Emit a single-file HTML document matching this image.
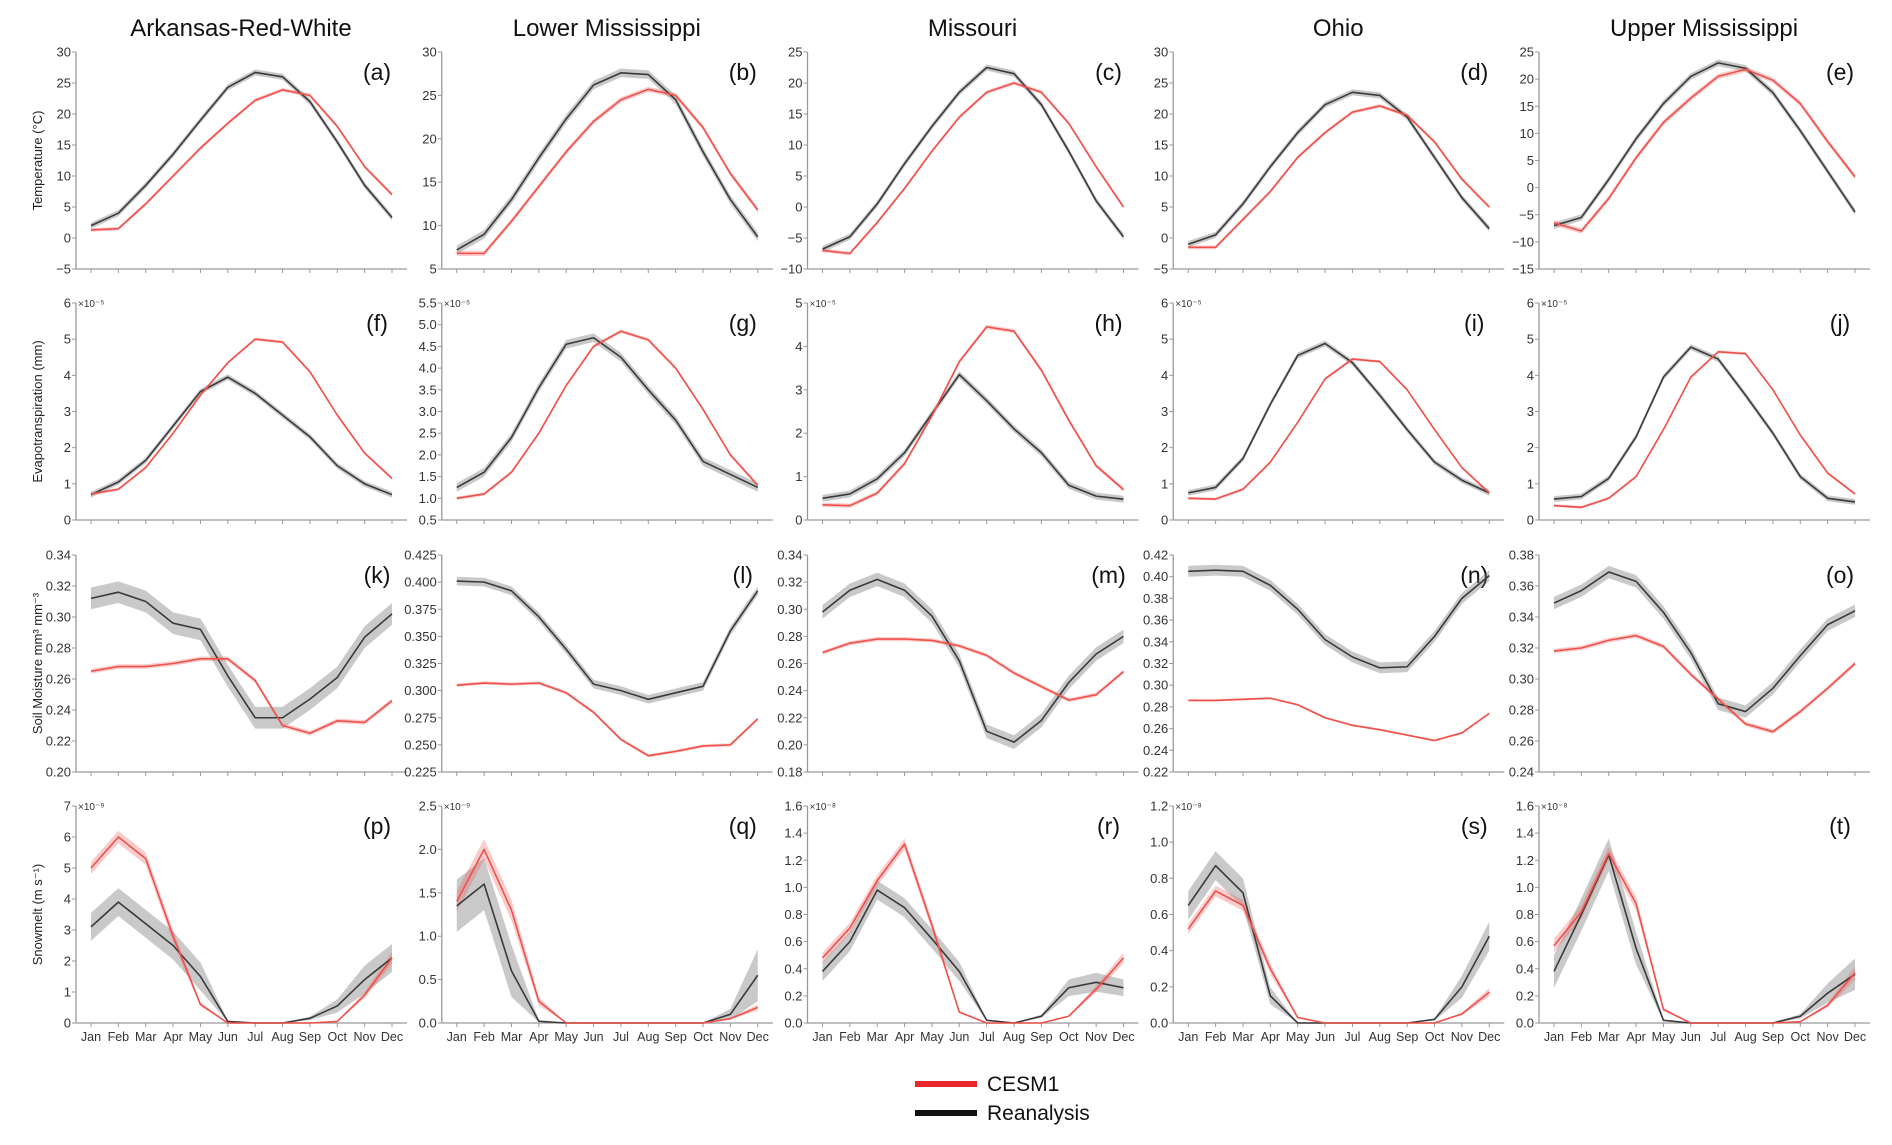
<!DOCTYPE html>
<html><head><meta charset="utf-8"><style>
html,body{margin:0;padding:0;background:#fff;}
svg{display:block;font-family:"Liberation Sans",Arial,sans-serif;}
</style></head><body>
<svg id="fig" width="1892" height="1145" viewBox="0 0 1892 1145" xmlns="http://www.w3.org/2000/svg"></svg>
<script>
const months=["Jan","Feb","Mar","Apr","May","Jun","Jul","Aug","Sep","Oct","Nov","Dec"];
const regions=["Arkansas-Red-White","Lower Mississippi","Missouri","Ohio","Upper Mississippi"];
const rowLabels=["Temperature (°C)","Evapotranspiration (mm)","Soil Moisture mm³ mm⁻³","Snowmelt (m s⁻¹)"];
const letters=["a","b","c","d","e","f","g","h","i","j","k","l","m","n","o","p","q","r","s","t"];
const yMin=[-5,5,-10,-5,-15, 0,0.5,0,0,0, 0.20,0.225,0.18,0.22,0.24, 0,0,0,0,0];
const yMax=[30,30,25,30,25, 6,5.5,5,6,6, 0.34,0.425,0.34,0.42,0.38, 7,2.5,1.6,1.2,1.6];
const yStep=[5,5,5,5,5, 1,0.5,1,1,1, 0.02,0.025,0.02,0.02,0.02, 1,0.5,0.2,0.2,0.2];
const yDec=[0,0,0,0,0, 0,1,0,0,0, 2,3,2,2,2, 0,1,1,1,1];
const expLabels=["","","","","", "×10⁻⁵","×10⁻⁵","×10⁻⁵","×10⁻⁵","×10⁻⁵", "","","","","", "×10⁻⁹","×10⁻⁹","×10⁻⁸","×10⁻⁸","×10⁻⁸"];
const reanalysis=[
[2,4,8.5,13.5,19,24.3,26.7,26,22,15.5,8.5,3.3],
[7.2,9,13,17.8,22.3,26.2,27.6,27.4,24.5,18.5,13,8.7],
[-6.8,-4.8,0.5,7,13,18.5,22.5,21.5,16.5,9,1,-4.8],
[-1,0.5,5.5,11.5,17,21.5,23.5,23,19.5,13,6.5,1.5],
[-7,-5.5,1.5,9,15.5,20.5,23,22,17.5,10.5,3,-4.5],
[0.7,1.05,1.65,2.6,3.55,3.95,3.5,2.9,2.3,1.5,1.0,0.7],
[1.25,1.6,2.4,3.55,4.55,4.7,4.25,3.5,2.8,1.85,1.55,1.25],
[0.5,0.6,0.95,1.55,2.45,3.35,2.75,2.1,1.55,0.8,0.55,0.48],
[0.75,0.9,1.7,3.2,4.55,4.88,4.35,3.45,2.5,1.6,1.1,0.75],
[0.58,0.65,1.15,2.3,3.95,4.78,4.45,3.45,2.4,1.2,0.6,0.5],
[0.312,0.316,0.310,0.296,0.292,0.262,0.235,0.235,0.247,0.261,0.287,0.302],
[0.401,0.400,0.392,0.368,0.338,0.306,0.300,0.292,0.298,0.304,0.355,0.392],
[0.298,0.314,0.322,0.314,0.295,0.262,0.210,0.202,0.218,0.246,0.267,0.280],
[0.405,0.406,0.405,0.392,0.370,0.342,0.326,0.316,0.317,0.345,0.380,0.401],
[0.349,0.357,0.369,0.363,0.343,0.317,0.284,0.279,0.294,0.315,0.335,0.344],
[3.1,3.9,3.2,2.5,1.5,0.05,0,0,0.15,0.55,1.4,2.1],
[1.35,1.6,0.6,0.02,0,0,0,0,0,0,0.1,0.55],
[0.38,0.6,0.98,0.85,0.62,0.38,0.02,0,0.05,0.26,0.3,0.26],
[0.65,0.87,0.72,0.15,0,0,0,0,0,0.02,0.2,0.48],
[0.38,0.8,1.24,0.55,0.02,0,0,0,0,0.05,0.22,0.36]];
const cesm=[
[1.3,1.5,5.5,10,14.5,18.5,22.2,23.9,23,18,11.5,7],
[6.8,6.8,10.5,14.5,18.5,22,24.5,25.7,25,21.3,16,11.8],
[-7,-7.5,-2.5,3,9,14.5,18.5,20,18.5,13.5,6.5,0],
[-1.5,-1.5,3,7.5,13,17,20.3,21.3,19.8,15.5,9.5,5],
[-6.5,-8,-2,5.5,12,16.5,20.5,21.8,19.8,15.5,8.5,2],
[0.72,0.85,1.45,2.4,3.45,4.35,5.0,4.92,4.1,2.9,1.85,1.15],
[1.0,1.1,1.6,2.5,3.6,4.5,4.85,4.65,4.0,3.05,2.0,1.3],
[0.35,0.33,0.62,1.3,2.4,3.65,4.45,4.35,3.45,2.3,1.25,0.7],
[0.6,0.58,0.85,1.6,2.7,3.9,4.45,4.38,3.6,2.5,1.45,0.75],
[0.4,0.35,0.6,1.2,2.5,3.95,4.65,4.6,3.6,2.35,1.3,0.72],
[0.265,0.268,0.268,0.270,0.273,0.273,0.259,0.230,0.225,0.233,0.232,0.246],
[0.305,0.307,0.306,0.307,0.298,0.280,0.255,0.240,0.244,0.249,0.250,0.274],
[0.268,0.275,0.278,0.278,0.277,0.273,0.266,0.253,0.243,0.233,0.237,0.254],
[0.286,0.286,0.287,0.288,0.282,0.270,0.263,0.259,0.254,0.249,0.256,0.274],
[0.318,0.320,0.325,0.328,0.321,0.303,0.287,0.271,0.266,0.279,0.294,0.310],
[5.0,6.0,5.3,2.8,0.6,0,0,0,0,0.05,0.9,2.1],
[1.4,2.0,1.3,0.25,0,0,0,0,0,0,0.05,0.18],
[0.48,0.7,1.05,1.32,0.72,0.08,0,0,0,0.05,0.25,0.48],
[0.52,0.73,0.65,0.3,0.03,0,0,0,0,0,0.05,0.17],
[0.57,0.82,1.25,0.88,0.1,0,0,0,0,0.01,0.13,0.37]];
const bandRe=[0.5,0.5,0.5,0.5,0.6, 0.08,0.1,0.08,0.08,0.08, 0.007,0.004,0.005,0.005,0.004, 0.45,0.3,0.07,0.08,0.12];
const bandCe=[0.3,0.3,0.3,0.3,0.5, 0.04,0.04,0.05,0.04,0.04, 0.0015,0.0015,0.0015,0.001,0.0015, 0.2,0.12,0.04,0.03,0.05];

const NS="http://www.w3.org/2000/svg";
const svg=document.getElementById('fig');
function mk(tag,attrs,parent){const e=document.createElementNS(NS,tag);for(const k in attrs)e.setAttribute(k,attrs[k]);(parent||svg).appendChild(e);return e;}
const colX0=76, colDX=365.75, axW=331, rowTop=[52,303,555,806], axH=217;
const x0off=15, xStepPx=(316-15)/11;

for(let c=0;c<5;c++){
  const t=mk('text',{x:colX0+c*colDX+165,y:36,'text-anchor':'middle','font-size':24,fill:'#111'});
  t.textContent=regions[c];
  
  
}
for(let r=0;r<4;r++){
  const cy=rowTop[r]+axH/2;
  const t=mk('text',{x:0,y:0,transform:`translate(42,${cy}) rotate(-90)`,'text-anchor':'middle','font-size':13,fill:'#222'});
  t.textContent=rowLabels[r];
  
  
}

for(let p=0;p<20;p++){
  const r=Math.floor(p/5), c=p%5;
  const X0=colX0+c*colDX, Y0=rowTop[r], Yb=Y0+axH;
  const g=mk('g',{});
  
  
  const xs=i=>X0+x0off+i*xStepPx;
  const ys=v=>Yb-(v-yMin[p])/(yMax[p]-yMin[p])*axH;
  mk('line',{x1:X0,y1:Y0,x2:X0,y2:Yb,stroke:'#999','stroke-width':1.3},g);
  mk('line',{x1:X0,y1:Yb,x2:X0+axW,y2:Yb,stroke:'#999','stroke-width':1.3},g);
  const n=Math.round((yMax[p]-yMin[p])/yStep[p]);
  for(let k=0;k<=n;k++){
    const v=yMin[p]+k*yStep[p], y=ys(v);
    mk('line',{x1:X0-4,y1:y,x2:X0,y2:y,stroke:'#999','stroke-width':1},g);
    const t=mk('text',{x:X0-5,y:y+4.5,'text-anchor':'end','font-size':13,fill:'#333'},g);
    t.textContent=(v<0?'−':'')+Math.abs(v).toFixed(yDec[p]);
  }
  for(let i=0;i<12;i++){
    mk('line',{x1:xs(i),y1:Yb,x2:xs(i),y2:Yb+4,stroke:'#999','stroke-width':1},g);
    if(r===3){const t=mk('text',{x:xs(i),y:Yb+18,'text-anchor':'middle','font-size':12.5,fill:'#333'},g);t.textContent=months[i];}
  }
  if(expLabels[p]){const t=mk('text',{x:X0+2,y:Y0+4,'font-size':10,fill:'#333'},g);t.textContent=expLabels[p];}
  const lt=mk('text',{x:X0+301,y:Y0+28,'text-anchor':'middle','font-size':23,fill:'#111'},g);
  lt.textContent='('+letters[p]+')';
  const snow=(r===3);
  function band(data,hw,fill,name){
    const mx=Math.max(...data);
    const h=i=>snow?hw*Math.min(1,data[i]/(0.3*mx)):hw;
    let d='';
    for(let i=0;i<12;i++)d+=(i?'L':'M')+xs(i)+','+ys(Math.min(yMax[p],data[i]+h(i)));
    for(let i=11;i>=0;i--)d+='L'+xs(i)+','+ys(Math.max(yMin[p],data[i]-h(i)));
    const e=mk('path',{d:d+'Z',fill:fill},g);
    
    
  }
  function line(data,col,name){
    const e=mk('polyline',{points:data.map((v,i)=>xs(i)+','+ys(v)).join(' '),fill:'none',stroke:col,'stroke-width':1.6,'stroke-linejoin':'round'},g);
    
    
  }
  band(reanalysis[p],bandRe[p],'rgba(120,120,120,0.4)','reanalysis-band');
  band(cesm[p],bandCe[p],'rgba(240,90,90,0.3)','cesm1-band');
  line(reanalysis[p],'#3a3a3a','reanalysis-line');
  line(cesm[p],'#f0504a','cesm1-line');
}
const lg=mk('g',{});


mk('line',{x1:915,y1:1084,x2:977,y2:1084,stroke:'#e8262b','stroke-width':6},lg);
mk('line',{x1:915,y1:1113,x2:977,y2:1113,stroke:'#111','stroke-width':6},lg);
const l1=mk('text',{x:987,y:1091,'font-size':21,fill:'#111'},lg);l1.textContent='CESM1';
const l2=mk('text',{x:987,y:1120,'font-size':21,fill:'#111'},lg);l2.textContent='Reanalysis';
</script>
</body></html>
